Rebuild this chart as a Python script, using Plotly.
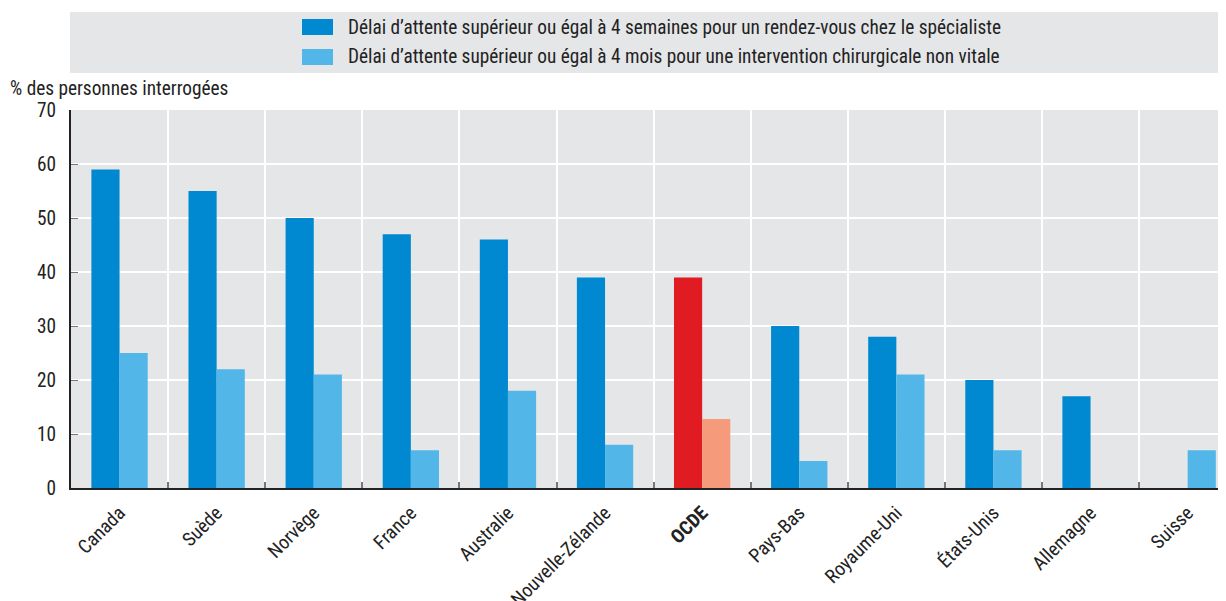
import plotly.graph_objects as go

categories = ["Canada", "Suède", "Norvège", "France", "Australie", "Nouvelle-Zélande",
              "OCDE", "Pays-Bas", "Royaume-Uni", "États-Unis", "Allemagne", "Suisse"]
specialist = [59, 55, 50, 47, 46, 39, 39, 30, 28, 20, 17, None]
surgery = [25, 22, 21, 7, 18, 8, 12.8, 5, 21, 7, None, 7]
series_names = [
    "Délai d’attente supérieur ou égal à 4 semaines pour un rendez-vous chez le spécialiste",
    "Délai d’attente supérieur ou égal à 4 mois pour une intervention chirurgicale non vitale",
]
y_title = "% des personnes interrogées"
tick_labels = [f"<b>{c}</b>" if c == "OCDE" else c for c in categories]

DARK = "#0089d0"
LIGHT = "#52b7e8"
RED = "#e01b22"
SALMON = "#f59b7c"
BG = "#e5e6e8"

c1 = [RED if c == "OCDE" else DARK for c in categories]
c2 = [SALMON if c == "OCDE" else LIGHT for c in categories]

FONT = "Liberation Sans Narrow, Arial Narrow, Roboto Condensed, sans-serif"
FS = 19.3

# page offset (body margin) of 8 px
OFF = 8
W, H = 1226 - OFF, 601 - OFF
L, R, T, B = 71 - OFF, 0, 110 - OFF, 601 - 488
PW, PH = W - L - R, H - T - B
CAT_W = 97.1  # px per category in the reference (plot is cropped on the right)


def px(xp):
    return (xp - OFF - L) / PW


def py(yp):
    return (H - B - (yp - OFF)) / PH


fig = go.Figure()
fig.add_trace(go.Bar(x=categories, y=specialist, name=series_names[0],
                     marker=dict(color=c1, line=dict(width=0))))
fig.add_trace(go.Bar(x=categories, y=surgery, name=series_names[1],
                     marker=dict(color=c2, line=dict(width=0))))

shapes = [dict(type="rect", xref="paper", yref="paper",
               x0=px(70), x1=px(1226), y0=py(73), y1=py(12),
               fillcolor=BG, line=dict(width=0), layer="below")]
annotations = []
leg_colors = [DARK, LIGHT]
leg_y = [(19, 35), (49, 65)]
for name, col, (ya, yb) in zip(series_names, leg_colors, leg_y):
    shapes.append(dict(type="rect", xref="paper", yref="paper",
                       x0=px(302), x1=px(333), y0=py(yb), y1=py(ya),
                       fillcolor=col, line=dict(width=0)))
    annotations.append(dict(text=name, xref="paper", yref="paper",
                            x=px(346), y=py((ya + yb) / 2), xanchor="left", yanchor="middle",
                            showarrow=False, font=dict(size=FS, family=FONT, color="#222")))
annotations.append(dict(text=y_title, xref="paper", yref="paper",
                        x=px(8), y=py(88), xanchor="left", yanchor="middle",
                        showarrow=False, font=dict(size=FS, family=FONT, color="#222")))

fig.update_layout(
    width=W, height=H,
    margin=dict(l=L, r=R, t=T, b=B, pad=0, autoexpand=False),
    paper_bgcolor="white",
    plot_bgcolor=BG,
    barmode="group",
    bargap=0.42,
    bargroupgap=0,
    font=dict(family=FONT, size=FS, color="#222"),
    showlegend=False,
    shapes=shapes,
    annotations=annotations,
)

fig.update_xaxes(
    type="category", tickson="boundaries", showgrid=True, gridcolor="white", gridwidth=2,
    tickvals=categories, ticktext=tick_labels, tickangle=-45,
    range=[-0.5, -0.5 + PW / CAT_W], automargin=False,
    ticks="inside", ticklen=6, tickcolor="#777", tickwidth=2,
    showline=True, linecolor="#222", linewidth=2, tickfont=dict(size=FS),
    ticklabelstandoff=4,
)
fig.update_yaxes(
    range=[0, 70], dtick=10, showgrid=True, gridcolor="white", gridwidth=2,
    ticks="inside", ticklen=7, tickcolor="#777", tickwidth=1, automargin=False,
    showline=True, linecolor="#222", linewidth=2, zeroline=False,
    tickfont=dict(size=FS), ticklabelstandoff=9,
)

fig.write_html("out.html")
